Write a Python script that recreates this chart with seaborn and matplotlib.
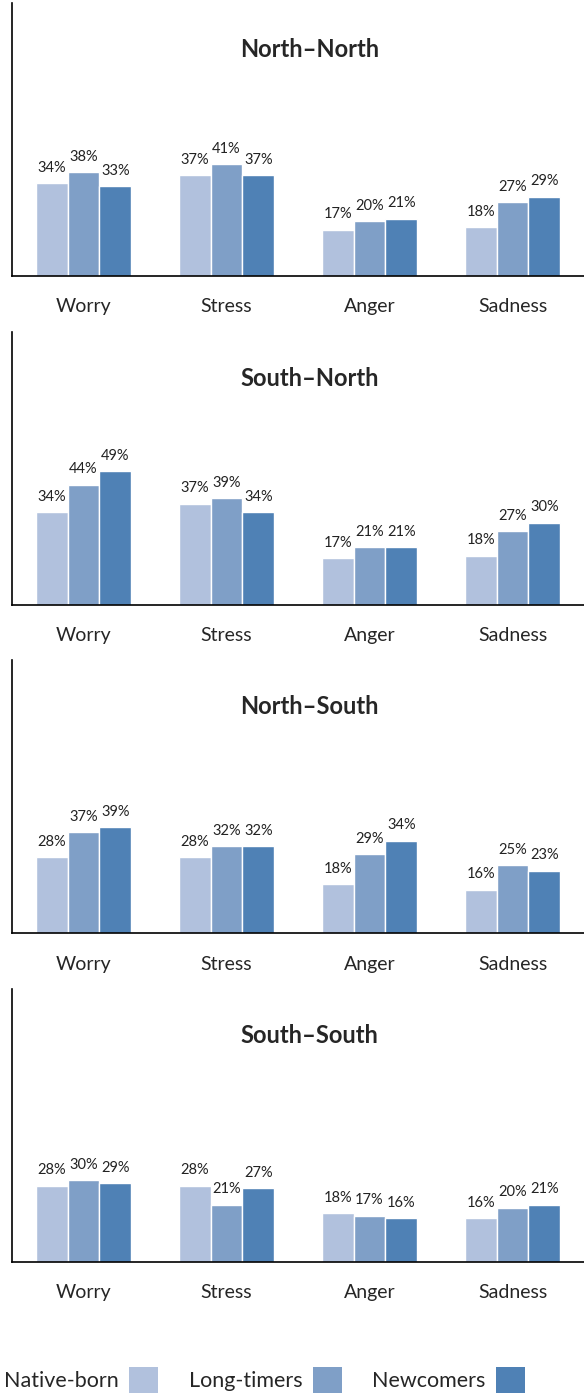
import matplotlib
matplotlib.use("Agg")
import matplotlib.pyplot as plt
import seaborn as sns
import pandas as pd
from matplotlib.patches import Patch

sns.set_style("white")
plt.rcParams['font.family'] = ['Lato', 'DejaVu Sans']

emotions = ["Worry", "Stress", "Anger", "Sadness"]
groups = ["Native-born", "Long-timers", "Newcomers"]
panels = ["North\u2013North", "South\u2013North", "North\u2013South", "South\u2013South"]
colors = ["#B1C1DD", "#7F9FC7", "#4F81B5"]

north_north = {"Native-born": [34, 37, 17, 18], "Long-timers": [38, 41, 20, 27], "Newcomers": [33, 37, 21, 29]}
south_north = {"Native-born": [34, 37, 17, 18], "Long-timers": [44, 39, 21, 27], "Newcomers": [49, 34, 21, 30]}
north_south = {"Native-born": [28, 28, 18, 16], "Long-timers": [37, 32, 29, 25], "Newcomers": [39, 32, 34, 23]}
south_south = {"Native-born": [28, 28, 18, 16], "Long-timers": [30, 21, 17, 20], "Newcomers": [29, 27, 16, 21]}
panel_data = [north_north, south_north, north_south, south_south]

W, H = 584, 1394
fig = plt.figure(figsize=(W / 100, H / 100), dpi=100)

for i, (name, d) in enumerate(zip(panels, panel_data)):
    top_px = 3 + 328.7 * i
    bot_px = 276 + 328.7 * i
    ax = fig.add_axes([12 / W, 1 - bot_px / H, 572 / W, (bot_px - top_px) / H])
    rows = [(e, g, d[g][j]) for g in groups for j, e in enumerate(emotions)]
    df = pd.DataFrame(rows, columns=["emotion", "group", "value"])
    sns.barplot(data=df, x="emotion", y="value", hue="group", order=emotions,
                hue_order=groups, palette=colors, saturation=1, width=0.67,
                ax=ax, legend=False, errorbar=None)
    for c in ax.containers:
        ax.bar_label(c, fmt="{:.0f}%", padding=6, fontsize=10.5, color="#222222")
    ax.set_ylim(0, 100)
    ax.set_xlim(-0.5, 3.5)
    ax.set_xlabel("")
    ax.set_ylabel("")
    ax.set_yticks([])
    ax.tick_params(axis="x", length=0, pad=16, labelsize=14)
    for s in ["top", "right"]:
        ax.spines[s].set_visible(False)
    for s in ["left", "bottom"]:
        ax.spines[s].set_color("black")
        ax.spines[s].set_linewidth(1.2)
    ax.text(0.52, 0.83, name, transform=ax.transAxes, ha="center", va="center",
            fontsize=17, fontweight="bold")

handles = [Patch(facecolor=c, edgecolor="none") for c in colors]
fig.legend(handles, groups, loc="lower center", bbox_to_anchor=(0.453, -0.010), ncol=3,
           frameon=False, markerfirst=False, fontsize=15.5, handlelength=1.35,
           handleheight=1.5, columnspacing=1.4, handletextpad=0.5, borderaxespad=0.3)

fig.savefig("out.png", dpi=100)
